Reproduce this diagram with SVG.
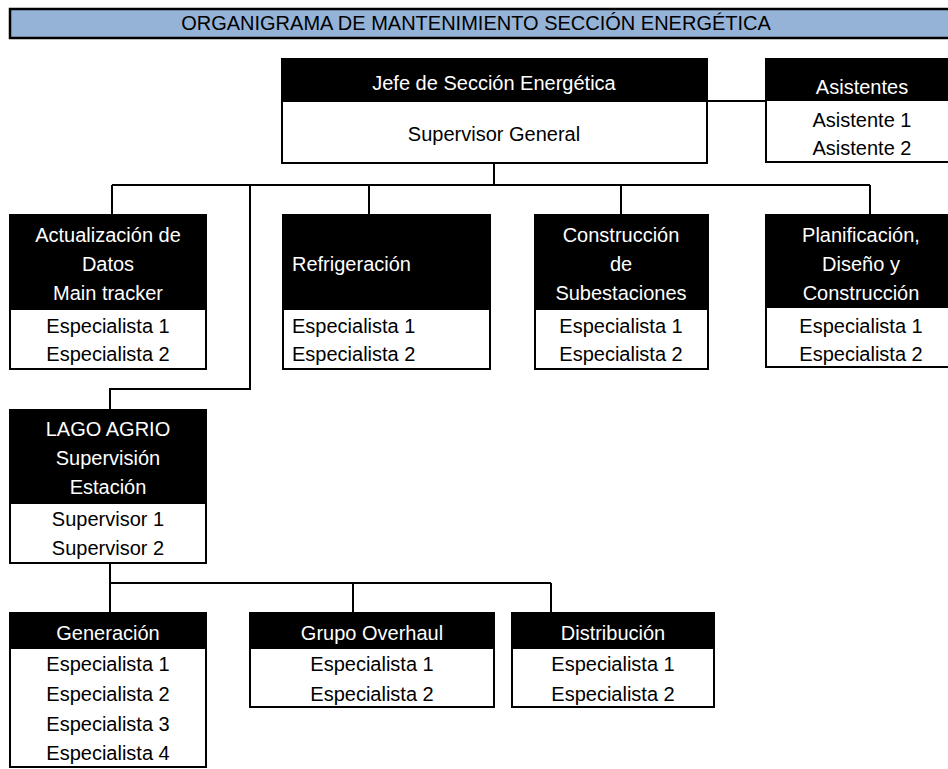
<svg xmlns="http://www.w3.org/2000/svg" width="948" height="769" viewBox="0 0 948 769">
<style>
.box{fill:#fff;stroke:#000;stroke-width:2}
.hd{fill:#000;stroke:#000;stroke-width:2}
.t{font-family:"Liberation Sans",Arial,sans-serif;font-size:20px;text-anchor:middle}
.w{fill:#fff}
.k{fill:#000}
.l{text-anchor:start}
.ln{fill:none;stroke:#000;stroke-width:2}
</style>
<g id="title">
<rect x="10" y="9" width="950" height="29" fill="#95B3D7" stroke="#000" stroke-width="2.5"/>
<text class="t k" x="476" y="30" font-size="18.5">ORGANIGRAMA DE MANTENIMIENTO SECCIÓN ENERGÉTICA</text>
</g>
<g id="connectors">
<path class="ln" d="M707 101H766"/>
<path class="ln" d="M494 163V185M112 185H870M112 185V215M369 185V215M621 185V215M870 185V215"/>
<path class="ln" d="M250 185V389H110V410"/>
<path class="ln" d="M110 563V583M110 583H551M110 583V613M353 583V613M551 583V613"/>
</g>
<g id="jefe">
<rect class="box" x="282" y="59" width="425" height="104"/>
<rect class="hd" x="282" y="59" width="425" height="42"/>
<text class="t w" x="494" y="89.5" font-size="21.5">Jefe de Sección Energética</text>
<text class="t k" x="494" y="140.5" font-size="21.5">Supervisor General</text>
</g>
<g id="asistentes">
<rect class="box" x="766" y="59" width="190" height="103"/>
<rect class="hd" x="766" y="59" width="190" height="41"/>
<text class="t w" x="862" y="94">Asistentes</text>
<text class="t k" x="862" y="127">Asistente 1</text>
<text class="t k" x="862" y="155">Asistente 2</text>
</g>
<g id="actualizacion">
<rect class="box" x="10" y="215" width="196" height="154"/>
<rect class="hd" x="10" y="215" width="196" height="94"/>
<text class="t w" x="108" y="242">Actualización de</text>
<text class="t w" x="108" y="271">Datos</text>
<text class="t w" x="108" y="300">Main tracker</text>
<text class="t k" x="108" y="333">Especialista 1</text>
<text class="t k" x="108" y="361">Especialista 2</text>
</g>
<g id="refrigeracion">
<rect class="box" x="283" y="215" width="207" height="154"/>
<rect class="hd" x="283" y="215" width="207" height="94"/>
<text class="t w l" x="292" y="271">Refrigeración</text>
<text class="t k l" x="292" y="333">Especialista 1</text>
<text class="t k l" x="292" y="361">Especialista 2</text>
</g>
<g id="construccion">
<rect class="box" x="535" y="215" width="173" height="154"/>
<rect class="hd" x="535" y="215" width="173" height="94"/>
<text class="t w" x="621" y="242">Construcción</text>
<text class="t w" x="621" y="271">de</text>
<text class="t w" x="621" y="300">Subestaciones</text>
<text class="t k" x="621" y="333">Especialista 1</text>
<text class="t k" x="621" y="361">Especialista 2</text>
</g>
<g id="planificacion">
<rect class="box" x="766" y="215" width="190" height="152"/>
<rect class="hd" x="766" y="215" width="190" height="92"/>
<text class="t w" x="861" y="242">Planificación,</text>
<text class="t w" x="861" y="271">Diseño y</text>
<text class="t w" x="861" y="300">Construcción</text>
<text class="t k" x="861" y="333">Especialista 1</text>
<text class="t k" x="861" y="361">Especialista 2</text>
</g>
<g id="lago-agrio">
<rect class="box" x="10" y="410" width="196" height="153"/>
<rect class="hd" x="10" y="410" width="196" height="93"/>
<text class="t w" x="108" y="436">LAGO AGRIO</text>
<text class="t w" x="108" y="465">Supervisión</text>
<text class="t w" x="108" y="494">Estación</text>
<text class="t k" x="108" y="526">Supervisor 1</text>
<text class="t k" x="108" y="555">Supervisor 2</text>
</g>
<g id="generacion">
<rect class="box" x="10" y="613" width="196" height="154"/>
<rect class="hd" x="10" y="613" width="196" height="35"/>
<text class="t w" x="108" y="640">Generación</text>
<text class="t k" x="108" y="671">Especialista 1</text>
<text class="t k" x="108" y="701">Especialista 2</text>
<text class="t k" x="108" y="731">Especialista 3</text>
<text class="t k" x="108" y="760">Especialista 4</text>
</g>
<g id="grupo-overhaul">
<rect class="box" x="250" y="613" width="244" height="94"/>
<rect class="hd" x="250" y="613" width="244" height="35"/>
<text class="t w" x="372" y="640">Grupo Overhaul</text>
<text class="t k" x="372" y="671">Especialista 1</text>
<text class="t k" x="372" y="701">Especialista 2</text>
</g>
<g id="distribucion">
<rect class="box" x="512" y="613" width="202" height="94"/>
<rect class="hd" x="512" y="613" width="202" height="35"/>
<text class="t w" x="613" y="640">Distribución</text>
<text class="t k" x="613" y="671">Especialista 1</text>
<text class="t k" x="613" y="701">Especialista 2</text>
</g>
</svg>
